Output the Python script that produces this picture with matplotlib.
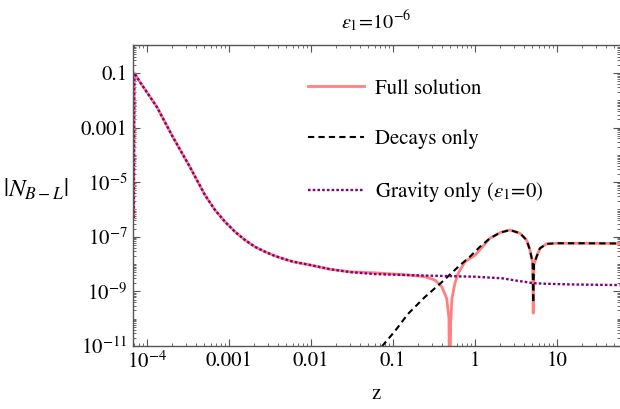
import numpy as np
import matplotlib
matplotlib.use("Agg")
import matplotlib.pyplot as plt
from matplotlib.ticker import FixedLocator, NullFormatter

# valores
z_grav = [6.9e-5, 7.0e-5, 8.2e-5, 1.32e-4, 2.07e-4, 3.34e-4, 5.09e-4, 6.75e-4, 8.93e-4,
          1.18e-3, 1.57e-3, 2.07e-3, 2.75e-3, 3.64e-3, 4.82e-3, 6.08e-3, 9.7e-3, 0.017,
          0.03, 0.06, 0.245, 1.0, 2.2, 2.9, 5.14, 7.5, 14.4, 58]
N_grav = [4.9e-7, 0.1, 4.7e-2, 5.7e-3, 4.5e-4, 3.6e-5, 3.4e-6, 9.6e-7, 3.57e-7,
          1.54e-7, 7.6e-8, 4.3e-8, 2.84e-8, 1.98e-8, 1.5e-8, 1.22e-8, 9.3e-9, 6.5e-9,
          5.1e-9, 4.3e-9, 3.8e-9, 3.45e-9, 3.0e-9, 2.6e-9, 2.0e-9, 1.9e-9, 1.8e-9, 1.7e-9]

z_full = [6.9e-5, 7.0e-5, 8.2e-5, 1.32e-4, 2.07e-4, 3.34e-4, 5.09e-4, 6.75e-4, 8.93e-4,
          1.18e-3, 1.57e-3, 2.07e-3, 2.75e-3, 3.64e-3, 4.82e-3, 6.08e-3, 9.7e-3, 0.017,
          0.03, 0.06, 0.152, 0.245, 0.325, 0.393, 0.452, 0.482, 0.49, 0.507, 0.525, 0.57,
          0.626, 0.755, 1.0, 1.22, 1.52, 2.02, 2.67, 3.54, 4.27, 4.69, 5.06, 5.14, 5.25,
          5.65, 6.21, 7.49, 9.9, 20, 58]
N_full = [4.9e-7, 0.1, 4.7e-2, 5.7e-3, 4.5e-4, 3.6e-5, 3.4e-6, 9.6e-7, 3.57e-7,
          1.54e-7, 7.6e-8, 4.3e-8, 2.84e-8, 1.98e-8, 1.5e-8, 1.22e-8, 9.3e-9, 6.5e-9,
          5.2e-9, 4.8e-9, 4.0e-9, 3.45e-9, 2.6e-9, 1.5e-9, 5.6e-10, 1.07e-10, 1e-13, 7.9e-11, 5.6e-10, 2.0e-9,
          4.6e-9, 1.23e-8, 2.1e-8, 4.1e-8, 8.8e-8, 1.41e-7, 1.78e-7, 1.35e-7, 7.6e-8, 3.3e-8, 1.1e-8, 1.6e-10, 1.0e-8,
          1.87e-8, 3.8e-8, 5.5e-8, 5.8e-8, 5.8e-8, 5.7e-8]

z_dec = [0.05, 0.0741, 0.1057, 0.152, 0.245, 0.396, 0.621, 0.869, 1.15, 1.52, 2.02,
         2.67, 3.54, 4.27, 4.69, 5.06, 5.14, 5.25, 5.65, 6.21, 7.49, 9.9, 20, 58]
N_dec = [2.6e-12, 1e-11, 3.5e-11, 1.48e-10, 6.2e-10, 2.2e-9, 7.8e-9, 1.87e-8, 4.3e-8, 8.8e-8, 1.41e-7,
         1.78e-7, 1.35e-7, 7.6e-8, 3.3e-8, 1.1e-8, 3.8e-10, 1.0e-8, 1.87e-8, 3.8e-8, 5.5e-8, 5.8e-8, 5.8e-8, 5.7e-8]

xticks = [1e-4, 1e-3, 1e-2, 1e-1, 1, 10]
xticklabels = [r'$10^{-4}$', '0.001', '0.01', '0.1', '1', '10']
yticks = [1e-1, 1e-3, 1e-5, 1e-7, 1e-9, 1e-11]
yticklabels = ['0.1', '0.001', r'$10^{-5}$', r'$10^{-7}$', r'$10^{-9}$', r'$10^{-11}$']

plt.rcParams['font.family'] = ['STIXGeneral', 'DejaVu Serif']
plt.rcParams['mathtext.fontset'] = 'stix'
plt.rcParams['font.size'] = 15

fig = plt.figure(figsize=(6.2, 4.09), dpi=100)
ax = fig.add_axes([133/620, 1-346/409, (619.5-133)/620, (346-45)/409])

ax.plot(z_full, N_full, color='#ff8080', lw=2.0, label='Full solution')
ax.plot(z_dec, N_dec, color='black', lw=1.5, ls=(0, (3, 2)), label='Decays only')
ax.plot(z_grav, N_grav, color='#800080', lw=1.7, ls=(0, (1.1, 0.9)),
        label=r'Gravity only ($\epsilon_1$=0)')

ax.set_xscale('log')
ax.set_yscale('log')
ax.set_xlim(6.75e-5, 58)
ax.set_ylim(1e-11, 1.06)

ax.xaxis.set_major_locator(FixedLocator(xticks))
ax.set_xticklabels(xticklabels)
xminor = [m * 10.0**e for e in range(-5, 2) for m in range(2, 10)]
ax.xaxis.set_minor_locator(FixedLocator(xminor))
ax.xaxis.set_minor_formatter(NullFormatter())

ax.yaxis.set_major_locator(FixedLocator(yticks))
ax.set_yticklabels(yticklabels)
yminor = [m * 10.0**e for e in range(-12, 1) for m in range(2, 10)]
yminor += [10.0**e for e in range(-10, 0, 2)]
ax.yaxis.set_minor_locator(FixedLocator(yminor))
ax.yaxis.set_minor_formatter(NullFormatter())

gris = '#555555'
for s in ax.spines.values():
    s.set_color(gris)
    s.set_linewidth(1.0)
ax.spines['right'].set_visible(False)
ax.tick_params(which='both', direction='in', top=True, right=True, color=gris)
ax.tick_params(which='major', length=5, width=0.8, pad=4)
ax.tick_params(which='minor', length=2.5, width=0.6)

ax.set_title(r'$\epsilon_1\!=\!10^{-6}$', fontsize=14.5, pad=12)
ax.set_xlabel('z', labelpad=8)
ax.set_ylabel(r'$|N_{B-L}|$', rotation=0, fontsize=18)
ax.yaxis.set_label_coords(-0.2, 0.475)

ax.legend(loc='upper left', bbox_to_anchor=(308/620, 1-79/409), bbox_transform=fig.transFigure,
          frameon=False, borderpad=0, borderaxespad=0, handlelength=2.7, handletextpad=0.5,
          labelspacing=1.48, fontsize=15)

fig.savefig('out.png', dpi=100)
